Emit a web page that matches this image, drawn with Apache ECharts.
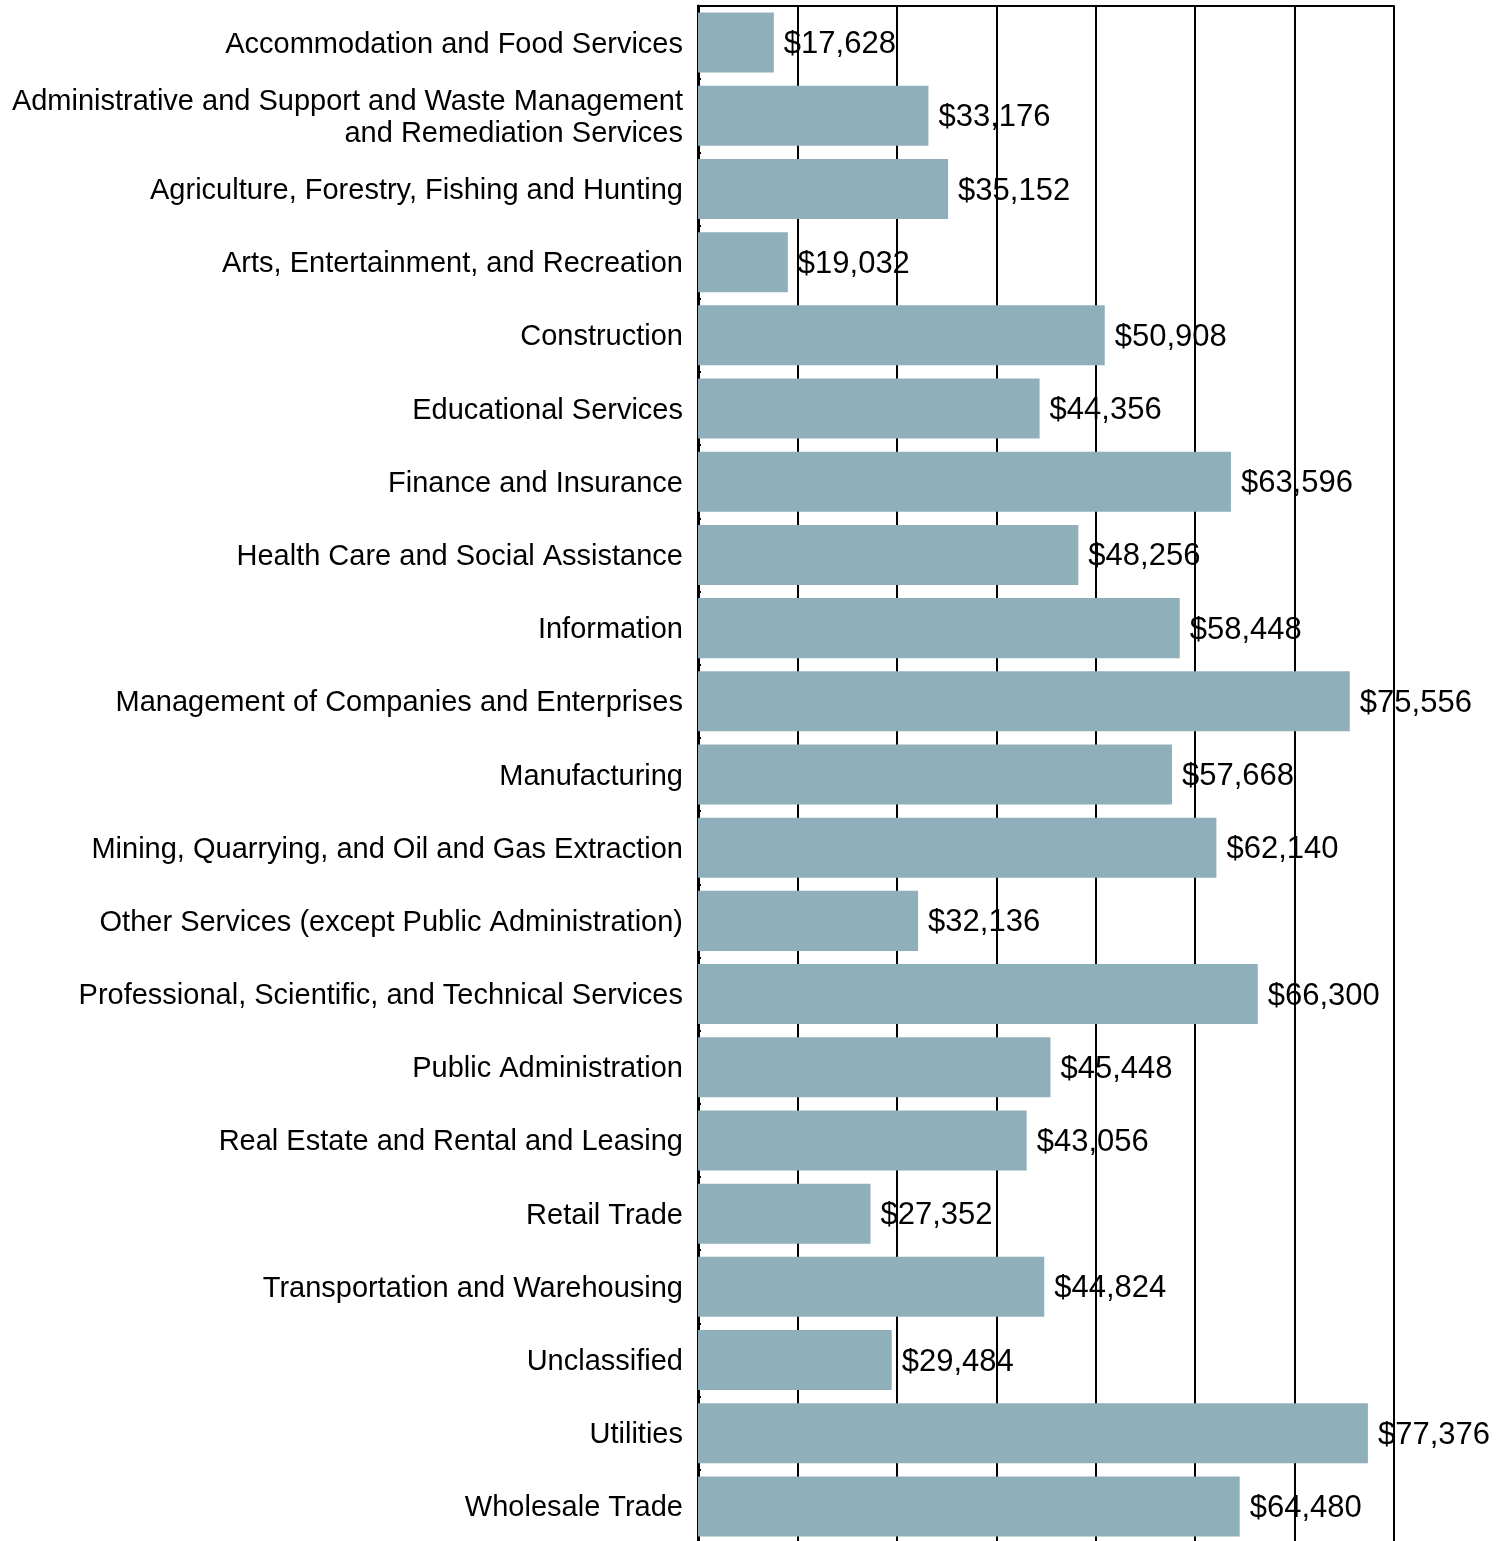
<!DOCTYPE html>
<html>
<head>
<meta charset="utf-8">
<script src="https://cdn.jsdelivr.net/npm/echarts@6/dist/echarts.min.js"></script>
<style>
  html, body { margin: 0; padding: 0; background: #fff; overflow: hidden; }
  #chart { width: 1504px; height: 1548px; }
</style>
</head>
<body>
<div id="chart"></div>
<script>
// Average annual wages by industry sector
const industries = [
  'Accommodation and Food Services',
  'Administrative and Support and Waste Management\nand Remediation Services',
  'Agriculture, Forestry, Fishing and Hunting',
  'Arts, Entertainment, and Recreation',
  'Construction',
  'Educational Services',
  'Finance and Insurance',
  'Health Care and Social Assistance',
  'Information',
  'Management of Companies and Enterprises',
  'Manufacturing',
  'Mining, Quarrying, and Oil and Gas Extraction',
  'Other Services (except Public Administration)',
  'Professional, Scientific, and Technical Services',
  'Public Administration',
  'Real Estate and Rental and Leasing',
  'Retail Trade',
  'Transportation and Warehousing',
  'Unclassified',
  'Utilities',
  'Wholesale Trade'
];

const wages = [
  17628, 33176, 35152, 19032, 50908, 44356, 63596, 48256, 58448, 75556,
  57668, 62140, 32136, 66300, 45448, 43056, 27352, 44824, 29484, 77376, 64480
];

const axisMin = 10000;
const axisMax = 80000;
const axisStep = 10000;

const fmt = v => '$' + v.toLocaleString('en-US');

const chart = echarts.init(document.getElementById('chart'), null, { renderer: 'canvas' });

chart.setOption({
  animation: false,
  backgroundColor: '#ffffff',
  grid: { left: 698, right: 110, top: 6, bottom: 5, containLabel: false },
  xAxis: {
    type: 'value',
    position: 'top',
    min: axisMin,
    max: axisMax,
    interval: axisStep,
    axisLine: { show: true, lineStyle: { color: '#000', width: 2 } },
    axisTick: { show: false },
    axisLabel: { show: false },
    splitLine: { show: true, lineStyle: { color: '#000', width: 2 } }
  },
  yAxis: {
    type: 'category',
    inverse: true,
    data: industries,
    axisLine: { show: true, lineStyle: { color: '#000', width: 3 } },
    axisTick: { show: true, length: 3, inside: true, lineStyle: { color: '#000', width: 2 } },
    axisLabel: {
      margin: 15,
      align: 'right',
      // each line is a rich token with a little top padding to sit level with its bar
      formatter: v => v.split('\n').map(s => '{t|' + s + '}').join('\n'),
      rich: {
        t: {
          color: '#000',
          fontFamily: 'Liberation Sans, Arial, sans-serif',
          fontSize: 29,
          lineHeight: 32,
          padding: [4, 0, 0, 0],
          align: 'right'
        }
      }
    },
    splitLine: { show: false }
  },
  series: [{
    type: 'bar',
    data: wages,
    barCategoryGap: '18%',
    itemStyle: { color: '#8fafba' },
    label: {
      show: true,
      position: 'right',
      distance: 10,
      offset: [0, 2],
      color: '#000',
      fontFamily: 'Liberation Sans, Arial, sans-serif',
      fontSize: 31,
      formatter: p => fmt(p.value)
    }
  }]
});
</script>
</body>
</html>
